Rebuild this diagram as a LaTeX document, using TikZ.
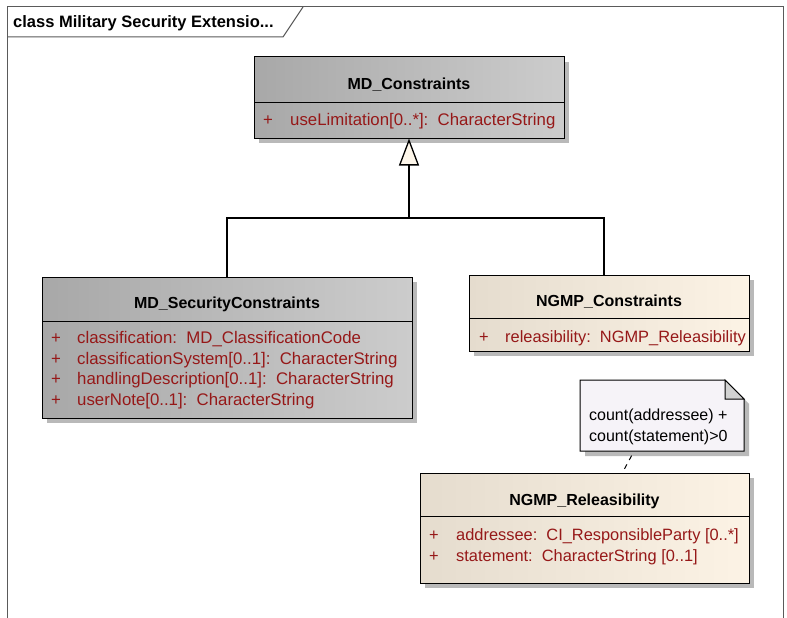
\documentclass[tikz,border=0pt]{standalone}
\usepackage{fontspec}
\setmainfont{Liberation Sans}
\usetikzlibrary{arrows.meta,shadows}
\definecolor{attr}{RGB}{150,24,24}
\definecolor{grayL}{RGB}{168,168,168}
\definecolor{grayR}{RGB}{204,204,204}
\definecolor{beigeL}{RGB}{229,220,206}
\definecolor{beigeR}{RGB}{252,243,229}
\definecolor{shadowc}{RGB}{185,185,185}
\definecolor{framec}{RGB}{90,90,90}
\definecolor{notefill}{RGB}{246,243,248}
\definecolor{foldc}{RGB}{210,210,210}
\definecolor{cream}{RGB}{253,246,234}
\begin{document}
\begin{tikzpicture}[x=1pt,y=-1pt,
  txt/.style={inner sep=0pt, font=\fontsize{16}{19}\selectfont},
  ttl/.style={inner sep=0pt, font=\bfseries\fontsize{16}{19}\selectfont, anchor=base},
  att/.style={inner sep=0pt, font=\fontsize{16.8}{19}\selectfont, text=attr, anchor=base west},
  attn/.style={att, font=\fontsize{16.4}{19}\selectfont},
  clsbox/.style={draw=black, line width=1pt, inner sep=0pt,
    drop shadow={shadow xshift=5pt, shadow yshift=-5pt, fill=shadowc, opacity=1}},
  graycls/.style={clsbox, left color=grayL, right color=grayR},
  beigecls/.style={clsbox, left color=beigeL, right color=beigeR},
  conn/.style={draw=black, line width=1.3pt},
  divider/.style={draw=black, line width=1pt}
]
\useasboundingbox (0,0) rectangle (787,618);
\fill[white] (0,0) rectangle (787,618);

% frame
\draw[framec, line width=1pt] (7,618) -- (7,7) -- (783,7) -- (783,618);
\draw[framec, line width=1pt] (7,37) -- (283,37) -- (303,7);
\node[ttl, anchor=base west, font=\bfseries\fontsize{16.5}{19}\selectfont] (frametitle) at (13,28) {class Military Security Extensio...};

% MD_Constraints
\node[graycls, minimum width=310pt, minimum height=81pt] (mdc) at (409,97.5) {};
\draw[divider] (254,102) -- (564,102);
\node[ttl] (mdct) at (409,89) {MD\_Constraints};
\node[att] (mdcp) at (263,125) {+};
\node[att] (mdca) at (290,125) {useLimitation[0..*]:\ \ CharacterString};

% MD_SecurityConstraints
\node[graycls, minimum width=370pt, minimum height=141pt] (sec) at (227,347.5) {};
\draw[divider] (42,321) -- (412,321);
\node[ttl] (sect) at (227,308) {MD\_SecurityConstraints};
\node[att] (secp1) at (51,343) {+};
\node[att] (seca1) at (77,343) {classification:\ \ MD\_ClassificationCode};
\node[att] (secp2) at (51,364) {+};
\node[att] (seca2) at (77,364) {classificationSystem[0..1]:\ \ CharacterString};
\node[att] (secp3) at (51,384) {+};
\node[att] (seca3) at (77,384) {handlingDescription[0..1]:\ \ CharacterString};
\node[att] (secp4) at (51,405) {+};
\node[att] (seca4) at (77,405) {userNote[0..1]:\ \ CharacterString};

% NGMP_Constraints
\node[beigecls, minimum width=280pt, minimum height=76pt] (ngc) at (609,313) {};
\draw[divider] (469,318) -- (749,318);
\node[ttl] (ngct) at (609,306) {NGMP\_Constraints};
\node[attn] (ngcp) at (479,342) {+};
\node[attn] (ngca) at (505,342) {releasibility:\ \ NGMP\_Releasibility};

% NGMP_Releasibility
\node[beigecls, minimum width=329pt, minimum height=110pt] (rel) at (584.5,528) {};
\draw[divider] (420,516) -- (749,516);
\node[ttl] (relt) at (584.5,505) {NGMP\_Releasibility};
\node[attn] (relp1) at (429,540) {+};
\node[attn] (rela1) at (456,540) {addressee:\ \ CI\_ResponsibleParty [0..*]};
\node[attn] (relp2) at (429,561) {+};
\node[attn] (rela2) at (456,561) {statement:\ \ CharacterString [0..1]};

% note
\fill[shadowc] (585,385) -- (730,385) -- (749,404) -- (749,456) -- (585,456) -- cycle;
\draw[black, line width=1pt, fill=notefill] (580,380) -- (725,380) -- (744,399) -- (744,451) -- (580,451) -- cycle;
\draw[black, line width=1pt, fill=foldc] (725,380) -- (725,399) -- (744,399) -- cycle;
\node[inner sep=0pt, minimum width=164pt, minimum height=71pt] (note) at (662,415.5) {};
\node[txt, anchor=base west] (notet1) at (589,420) {count(addressee) +};
\node[txt, anchor=base west] (notet2) at (589,441) {count(statement)>0};

% connectors
\coordinate (jn) at (409,218);
\draw[conn] (sec.north) |- (jn);
\draw[conn] ([xshift=-5pt]ngc.north) |- (jn);
\draw[conn, -{Triangle[width=20pt, length=27pt, fill=cream]}] (jn) -- (mdc.south);
\draw[black, line width=1pt, dash pattern=on 5pt off 5pt, dash phase=5pt]
  ([xshift=-28pt]note.south) -- ([xshift=38pt]rel.north);
\end{tikzpicture}
\end{document}
